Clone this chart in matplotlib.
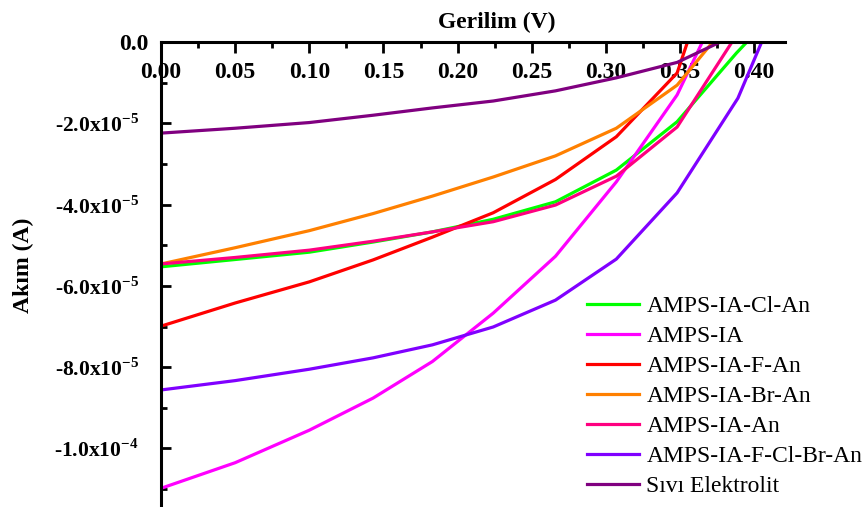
import matplotlib
matplotlib.use('Agg')
from matplotlib import pyplot  # noqa
from matplotlib.ticker import MultipleLocator, FixedLocator, FixedFormatter  # noqa

pyplot.rcParams['font.family'] = 'Liberation Serif'
pyplot.rcParams['mathtext.fontset'] = 'custom'
pyplot.rcParams['mathtext.rm'] = 'Liberation Serif:bold'
pyplot.rcParams['mathtext.bf'] = 'Liberation Serif:bold'

# Voltage grid shared by all cells (V)
v_grid = [0.0, 0.05, 0.10, 0.143, 0.183, 0.224, 0.266, 0.307, 0.348]

cl_an_v = v_grid + [0.388, 0.395]
cl_an_i = [-5.53e-5, -5.35e-5, -5.17e-5, -4.92e-5, -4.67e-5, -4.36e-5,
           -3.93e-5, -3.15e-5, -1.96e-5, -0.27e-5, 0.0]

ia_v = v_grid + [0.365]
ia_i = [-1.098e-4, -1.035e-4, -9.55e-5, -8.76e-5, -7.86e-5, -6.67e-5,
        -5.27e-5, -3.44e-5, -1.30e-5, 0.0]

f_an_v = v_grid + [0.355]
f_an_i = [-6.99e-5, -6.42e-5, -5.90e-5, -5.36e-5, -4.80e-5, -4.20e-5,
          -3.38e-5, -2.33e-5, -0.76e-5, 0.0]

br_an_v = v_grid + [0.372]
br_an_i = [-5.46e-5, -5.06e-5, -4.64e-5, -4.22e-5, -3.79e-5, -3.32e-5,
           -2.80e-5, -2.12e-5, -1.06e-5, 0.0]

an_v = v_grid + [0.385]
an_i = [-5.46e-5, -5.30e-5, -5.12e-5, -4.90e-5, -4.67e-5, -4.42e-5,
        -4.01e-5, -3.30e-5, -2.09e-5, 0.0]

fclbr_an_v = v_grid + [0.389, 0.405]
fclbr_an_i = [-8.56e-5, -8.33e-5, -8.05e-5, -7.77e-5, -7.45e-5, -7.01e-5,
              -6.35e-5, -5.34e-5, -3.71e-5, -1.38e-5, 0.0]

liquid_v = v_grid + [0.377]
liquid_i = [-2.24e-5, -2.12e-5, -1.98e-5, -1.80e-5, -1.62e-5, -1.45e-5,
            -1.20e-5, -0.88e-5, -0.50e-5, 0.0]

series = [
    ('AMPS-IA-Cl-An', cl_an_v, cl_an_i, '#00ff00'),
    ('AMPS-IA', ia_v, ia_i, '#ff00ff'),
    ('AMPS-IA-F-An', f_an_v, f_an_i, '#ff0000'),
    ('AMPS-IA-Br-An', br_an_v, br_an_i, '#ff8000'),
    ('AMPS-IA-An', an_v, an_i, '#ff0080'),
    ('AMPS-IA-F-Cl-Br-An', fclbr_an_v, fclbr_an_i, '#8000ff'),
    ('Sıvı Elektrolit', liquid_v, liquid_i, '#800080'),
]

y_ticks = [0.0, -2.0e-5, -4.0e-5, -6.0e-5, -8.0e-5, -1.0e-4]
y_tick_labels = ['0.0', r'-2.0x10$^{-5}$', r'-4.0x10$^{-5}$',
                 r'-6.0x10$^{-5}$', r'-8.0x10$^{-5}$', r'-1.0x10$^{-4}$']

fig = pyplot.figure(figsize=(8.67, 5.07), dpi=100)
ax = fig.add_axes([0.1857, 0.004, 0.7193, 0.913])

handles = []
for label, v, i, color in series:
    line, = ax.plot(v, i, '-', color=color, linewidth=2.3, label=label)
    handles.append(line)

ax.set_xlim(0, 0.4205)
ax.set_ylim(-1.139e-4, 0)

for side in ('bottom', 'right'):
    ax.spines[side].set_visible(False)
for side in ('top', 'left'):
    ax.spines[side].set_linewidth(2.2)

ax.xaxis.tick_top()
ax.xaxis.set_label_position('top')
ax.xaxis.set_major_locator(MultipleLocator(0.05))
ax.xaxis.set_minor_locator(MultipleLocator(0.025))
ax.xaxis.set_major_formatter(matplotlib.ticker.FormatStrFormatter('%.2f'))
ax.tick_params(axis='x', which='major', direction='in', length=8, width=2,
               pad=-14, labelsize=17)
ax.tick_params(axis='x', which='minor', direction='in', length=4, width=2)
for lbl in ax.get_xticklabels():
    lbl.set_fontweight('bold')
    lbl.set_verticalalignment('top')

ax.yaxis.set_major_locator(FixedLocator(y_ticks))
ax.yaxis.set_major_formatter(FixedFormatter(y_tick_labels))
ax.yaxis.set_minor_locator(MultipleLocator(1e-5))
ax.tick_params(axis='y', which='major', direction='in', length=7, width=2,
               pad=16, labelsize=15.5)
ax.tick_params(axis='y', which='minor', direction='in', length=4, width=2)
for lbl in ax.get_yticklabels():
    lbl.set_fontweight('bold')
# the zero label sits a little closer to the axis and is set larger
zero_lbl = ax.get_yticklabels()[0]
zero_lbl.set_fontsize(17)
zero_lbl.set_x(0.015)

ax.set_xlabel('Gerilim (V)', fontsize=17, fontweight='bold')
ax.xaxis.set_label_coords(0.538, 1.030)
ax.set_ylabel('Akım (A)', fontsize=17, fontweight='bold')
ax.yaxis.set_label_coords(-0.204, 0.518)

fig.legend(handles=handles, loc='upper left',
           bbox_to_anchor=(0.663, 0.44), frameon=False, fontsize=17,
           handlelength=2.2, handletextpad=0.33, labelspacing=0.36,
           borderpad=0)

fig.savefig('out.png', dpi=100)
pyplot.close()
